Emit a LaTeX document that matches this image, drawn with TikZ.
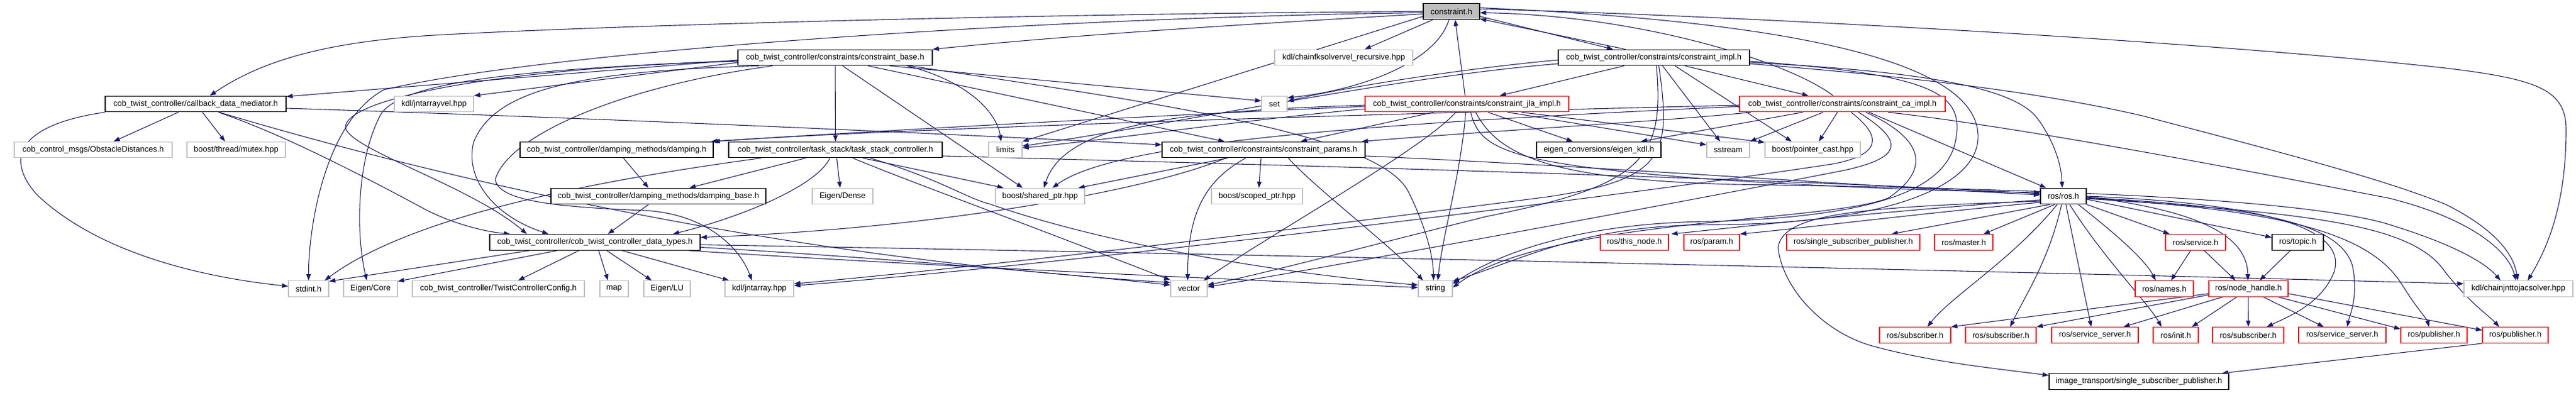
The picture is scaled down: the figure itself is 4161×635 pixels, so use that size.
\documentclass[tikz,border=0pt]{standalone}
\usepackage{fontspec}
\setmainfont{Liberation Sans}
\usetikzlibrary{arrows.meta}
\definecolor{edgeblue}{HTML}{191970}
\definecolor{boxgray}{HTML}{BFBFBF}
\pgfdeclarelayer{bg}
\pgfsetlayers{bg,main}
\begin{document}
\begin{tikzpicture}[x=0.5pt,y=-0.5pt,
  box/.style={rectangle, inner sep=0pt, minimum height=12.75pt, line width=0.65pt, font=\fontsize{6.5}{7}\selectfont, fill=white},
  gr/.style={box, draw=boxgray},
  bk/.style={box, draw=black},
  rd/.style={box, draw=red},
  e/.style={draw=edgeblue, line width=0.55pt, -{Triangle[length=5pt,width=3.6pt]}}]
\useasboundingbox (0,0) rectangle (4161,635);
% row 0
\node[bk, fill=boxgray, minimum width=45.5pt] (c0) at (2344.5,18.5) {constraint.h};
% row 1
\node[bk, minimum width=157pt] (cbase) at (1349,93) {cob\_twist\_controller/constraints/constraint\_base.h};
\node[gr, minimum width=111.5pt] (kfk) at (2170.5,93) {kdl/chainfksolvervel\_recursive.hpp};
\node[bk, minimum width=154.5pt] (cimpl) at (2671.5,93) {cob\_twist\_controller/constraints/constraint\_impl.h};
% row 2
\node[bk, minimum width=146pt] (cbm) at (316,168) {cob\_twist\_controller/callback\_data\_mediator.h};
\node[gr, minimum width=64pt] (jav) at (701,168) {kdl/jntarrayvel.hpp};
\node[gr, minimum width=20.5pt] (set) at (2058.5,168) {set};
\node[rd, minimum width=164.5pt] (jla) at (2369.5,168) {cob\_twist\_controller/constraints/constraint\_jla\_impl.h};
\node[rd, minimum width=166pt] (ca) at (2976,168) {cob\_twist\_controller/constraints/constraint\_ca\_impl.h};
% row 3
\node[gr, minimum width=127.5pt] (obs) at (150.5,242) {cob\_control\_msgs/ObstacleDistances.h};
\node[gr, minimum width=79.5pt] (mutex) at (381.5,242) {boost/thread/mutex.hpp};
\node[bk, minimum width=156pt] (damp) at (996,242) {cob\_twist\_controller/damping\_methods/damping.h};
\node[bk, minimum width=172.5pt] (tsc) at (1349.5,242) {cob\_twist\_controller/task\_stack/task\_stack\_controller.h};
\node[gr, minimum width=27pt] (limits) at (1624,242) {limits};
\node[bk, minimum width=164pt] (cparams) at (2041,242) {cob\_twist\_controller/constraints/constraint\_params.h};
\node[bk, minimum width=100.5pt] (ekdl) at (2582.5,242) {eigen\_conversions/eigen\_kdl.h};
\node[gr, minimum width=34.5pt] (sstream) at (2791.5,242) {sstream};
\node[gr, minimum width=77pt] (pcast) at (2928,242) {boost/pointer\_cast.hpp};
% row 4
\node[bk, minimum width=173.5pt] (dbase) at (1063.5,317) {cob\_twist\_controller/damping\_methods/damping\_base.h};
\node[gr, minimum width=49pt] (edense) at (1361,317) {Eigen/Dense};
\node[gr, minimum width=72pt] (shptr) at (1680,317) {boost/shared\_ptr.hpp};
\node[gr, minimum width=73.5pt] (scptr) at (2030.5,317) {boost/scoped\_ptr.hpp};
\node[bk, minimum width=37pt] (rosh) at (3333,317) {ros/ros.h};
% row 5
\node[bk, minimum width=170pt] (dtypes) at (961,391.5) {cob\_twist\_controller/cob\_twist\_controller\_data\_types.h};
\node[rd, minimum width=55pt] (thisnode) at (2640,391.5) {ros/this\_node.h};
\node[rd, minimum width=45pt] (param) at (2765,391.5) {ros/param.h};
\node[rd, minimum width=107.5pt] (rssp) at (2993.5,391.5) {ros/single\_subscriber\_publisher.h};
\node[rd, minimum width=47pt] (master) at (3172,391.5) {ros/master.h};
\node[rd, minimum width=48.5pt] (service) at (3546.5,391.5) {ros/service.h};
\node[bk, minimum width=41.5pt] (topic) at (3711.5,391.5) {ros/topic.h};
% row 6
\node[gr, minimum width=32.5pt] (stdint) at (498.5,466.5) {stdint.h};
\node[gr, minimum width=43.5pt] (ecore) at (598.5,466.5) {Eigen/Core};
\node[gr, minimum width=139pt] (tcc) at (805,466.5) {cob\_twist\_controller/TwistControllerConfig.h};
\node[gr, minimum width=23pt] (map) at (992,466.5) {map};
\node[gr, minimum width=37.5pt] (elu) at (1077.5,466.5) {Eigen/LU};
\node[gr, minimum width=55.5pt] (ja) at (1226.5,466.5) {kdl/jntarray.hpp};
\node[gr, minimum width=29.5pt] (vector) at (1920.5,466.5) {vector};
\node[gr, minimum width=27.5pt] (string) at (2318.5,466.5) {string};
\node[rd, minimum width=47pt] (names) at (3496,466.5) {ros/names.h};
\node[rd, minimum width=64pt] (nh) at (3632,466.5) {ros/node\_handle.h};
\node[gr, minimum width=88pt] (cjj) at (4068,466.5) {kdl/chainjnttojacsolver.hpp};
% row 7
\node[rd, minimum width=57.5pt] (sub1) at (3093.5,541.5) {ros/subscriber.h};
\node[rd, minimum width=57pt] (sub2) at (3232,541.5) {ros/subscriber.h};
\node[rd, minimum width=70pt] (ss1) at (3384,541.5) {ros/service\_server.h};
\node[rd, minimum width=36.5pt] (init) at (3514.5,541.5) {ros/init.h};
\node[rd, minimum width=57.5pt] (sub3) at (3631.5,541.5) {ros/subscriber.h};
\node[rd, minimum width=70.5pt] (ss2) at (3783.5,541.5) {ros/service\_server.h};
\node[rd, minimum width=53.5pt] (pub1) at (3931.5,541.5) {ros/publisher.h};
\node[rd, minimum width=53pt] (pub2) at (4063,541.5) {ros/publisher.h};
% row 8
\node[bk, minimum width=145pt] (itssp) at (3455,616.5) {image\_transport/single\_subscriber\_publisher.h};

\begin{pgfonlayer}{bg}
\fill[white] (0,0) rectangle (4161,635);
% ---- edges from constraint.h
\draw[e] (c0.west) .. controls (1700,22) and (1000,40) .. (700,57) .. controls (520,68) and (420,100) .. ([xshift=11.5pt]cbm.north);
\draw[e] ([yshift=-2pt]c0.west) .. controls (2000,40) and (1750,55) .. (cbase.north east);
\draw[e] ([xshift=-15pt]c0.south) -- ([xshift=17pt]kfk.north);
\draw[e] ([yshift=-4pt]c0.east) -- ([xshift=-33pt]cimpl.north);
\draw[e] ([xshift=-23pt]cimpl.north) -- ([yshift=-6pt]c0.east);
\draw[e] ([yshift=2pt]c0.east) .. controls (2700,22) and (3500,60) .. (3950,110) .. controls (4100,128) and (4145,145) .. (4145,210) .. controls (4145,330) and (4115,400) .. ([xshift=7.5pt]cjj.north);
\draw[e] ([xshift=-2pt]c0.south) .. controls (2320,100) and (2200,145) .. ([yshift=5pt]set.east);
\draw[e] ([yshift=-4pt]c0.west) -- (limits.north east);
\draw[e] ([yshift=-1pt]c0.west) .. controls (1700,28) and (900,80) .. (620,145) .. controls (520,200) and (498,380) .. (stdint.north);
\draw[e] ([yshift=3pt]c0.east) .. controls (2900,35) and (3190,100) .. (3195,217) .. controls (3200,300) and (3050,362) .. (2770,363) .. controls (2560,363) and (2470,415) .. ([yshift=6pt]string.east);

% ---- constraint_base.h
\draw[e] ([yshift=-2pt]cbase.west) -- ([yshift=6pt]cbm.east);
\draw[e] ([yshift=-4pt]cbase.west) -- (jav.north east);
\draw[e] ([yshift=-3pt]cbase.west) .. controls (800,110) and (560,160) .. (558,205) .. controls (560,240) and (760,300) .. ([xshift=-55pt]dtypes.north);
\draw[e] ([yshift=-2.5pt]cbase.west) .. controls (850,112) and (650,130) .. (615,185) .. controls (575,260) and (575,380) .. ([xshift=-3pt]ecore.north);
\draw[e] ([xshift=44pt]cbase.south) -- ([yshift=2.5pt]set.west);
\draw[e] ([xshift=58pt]cbase.south) .. controls (1560,130) and (1610,180) .. ([xshift=-3.5pt]limits.north);
\draw[e] ([xshift=26.5pt]cbase.south) -- ([xshift=-31.5pt]cparams.north);
\draw[e] (cbase) -- (tsc);
\draw[e] ([xshift=6pt]cbase.south) -- ([xshift=-14pt]shptr.north);
\draw[e] ([xshift=60pt]cbase.south) .. controls (1900,170) and (2230,220) .. (2275,310) .. controls (2300,360) and (2315,410) .. ([xshift=-1.5pt]string.north);
\draw[e] ([xshift=-50.5pt]cbase.south) .. controls (1000,140) and (820,220) .. (800,290) .. controls (805,322) and (880,334) .. (1040,340) .. controls (1140,345) and (1195,400) .. ([xshift=-6pt]ja.north);
\draw[e] ([xshift=-61.5pt]cbase.south) .. controls (950,115) and (800,140) .. (765,230) .. controls (750,290) and (800,350) .. ([xshift=-37.5pt]dtypes.north);

% ---- callback_data_mediator.h
\draw[e] ([xshift=-14pt]cbm.south) -- ([xshift=16.5pt]obs.north);
\draw[e] ([xshift=5.5pt]cbm.south) -- ([xshift=-9pt]mutex.north);
\draw[e] (cbm.south west) .. controls (40,200) and (2,250) .. (60,315) .. controls (150,400) and (300,445) .. ([yshift=2pt]stdint.west);
\draw[e] ([yshift=-3.5pt]cbm.east) .. controls (1000,192) and (1500,215) .. ([yshift=4pt]cparams.west);
\draw[e] ([xshift=18.5pt]cbm.south) .. controls (450,215) and (560,270) .. (690,340) .. controls (740,365) and (790,375) .. ([xshift=-68.5pt]dtypes.north);
\draw[e] ([xshift=19pt]cbm.south) .. controls (750,300) and (1300,420) .. ([yshift=5pt]vector.west);

% ---- task_stack_controller.h
\draw[e] ([xshift=-24pt]tsc.south) -- ([xshift=25pt]dbase.north);
\draw[e] ([xshift=1pt]tsc.south) -- ([xshift=-2pt]edense.north);
\draw[e] ([xshift=-4.5pt]tsc.south) .. controls (1320,300) and (1200,350) .. ([xshift=63pt]dtypes.north);
\draw[e] ([xshift=-60pt]tsc.south) .. controls (900,300) and (650,360) .. ([xshift=13pt]stdint.north);
\draw[e] ([xshift=22pt]tsc.south) -- ([xshift=-29.5pt]shptr.north);
\draw[e] ([xshift=14pt]tsc.south) .. controls (1460,290) and (1600,340) .. ([yshift=7pt]vector.west);
\draw[e] ([xshift=28pt]tsc.south) .. controls (1520,290) and (1560,320) .. (1600,330) .. controls (1800,400) and (2100,445) .. ([yshift=3pt]string.west);
\draw[e] ([yshift=-5pt]tsc.east) .. controls (2200,270) and (2900,290) .. ([yshift=2pt]rosh.west);

% ---- damping, damping_base, data_types
\draw[e] ([xshift=5.5pt]damp.south) -- ([xshift=-8pt]dbase.north);
\draw[e] ([xshift=-8pt]dbase.south) -- ([xshift=10.5pt]dtypes.north);
\draw[e] ([xshift=-13pt]dtypes.south) -- ([xshift=16pt]tcc.north);
\draw[e] ([xshift=3pt]dtypes.south) -- ([xshift=-5pt]map.north);
\draw[e] ([xshift=9.5pt]dtypes.south) -- ([xshift=-12.5pt]elu.north);
\draw[e] ([xshift=22pt]dtypes.south) -- ([xshift=-24.5pt]ja.north);
\draw[e] ([xshift=-53pt]dtypes.south) -- ([yshift=6pt]stdint.east);
\draw[e] ([xshift=-30.5pt]dtypes.south) -- ([yshift=6pt]ecore.east);
\draw[e] ([yshift=-4pt]dtypes.east) .. controls (1400,415) and (1700,440) .. ([yshift=3pt]vector.west);
\draw[e] ([xshift=76pt]dtypes.south) .. controls (1500,430) and (2000,452) .. ([yshift=1pt]string.west);
\draw[e] ([yshift=-2pt]dtypes.east) .. controls (2000,410) and (3300,440) .. ([yshift=4pt]cjj.west);

% ---- constraint_params.h
\draw[e] ([xshift=-30.5pt]cparams.south) .. controls (1850,310) and (1500,370) .. ([yshift=4pt]dtypes.east);
\draw[e] ([xshift=-29pt]cparams.south) -- ([xshift=31pt]shptr.north);
\draw[e] ([xshift=-2pt]cparams.south) -- ([xshift=1.5pt]scptr.north);
\draw[e] ([xshift=-14.5pt]cparams.south) .. controls (1950,290) and (1918,340) .. ([xshift=-1pt]vector.north);
\draw[e] ([xshift=20pt]cparams.south) .. controls (2120,300) and (2250,400) .. ([xshift=-10pt]string.north);
\draw[e] ([yshift=-5pt]cparams.east) .. controls (2600,270) and (3000,300) .. ([yshift=1pt]rosh.west);

% ---- constraint_impl.h
\draw[e] ([xshift=-24pt]cimpl.south) -- ([xshift=26.5pt]jla.north);
\draw[e] ([xshift=25pt]cimpl.south) -- ([xshift=-27.5pt]ca.north);
\draw[e] ([yshift=-2pt]cimpl.west) .. controls (2350,112) and (2150,145) .. ([yshift=2pt]set.east);
\draw[e] ([yshift=-5pt]cimpl.west) .. controls (2250,125) and (1900,200) .. ([yshift=3pt]limits.east);
\draw[e] ([yshift=-4pt]cimpl.east) .. controls (3100,115) and (3250,140) .. (3290,190) .. controls (3320,230) and (3330,270) .. ([xshift=-1pt]rosh.north);
\draw[e] ([xshift=7pt]cimpl.south) -- ([xshift=-6.5pt]sstream.north);
\draw[e] ([xshift=17pt]cimpl.south) -- ([xshift=-17pt]pcast.north);
\draw[e] ([xshift=4pt]cimpl.south) .. controls (2700,250) and (2690,290) .. (2500,318) .. controls (2100,370) and (1600,430) .. ([yshift=4pt]ja.east);
\draw[e] ([yshift=-3pt]cimpl.east) .. controls (3120,120) and (3170,150) .. (3160,220) .. controls (3150,300) and (3050,350) .. (2760,358) .. controls (2550,360) and (2420,410) .. ([yshift=4pt]string.east);
\draw[e] ([yshift=-5pt]cimpl.east) .. controls (3100,125) and (3300,150) .. (3460,187) .. controls (3700,250) and (3850,290) .. (3950,330) .. controls (4030,370) and (4060,410) .. ([xshift=-0.5pt]cjj.north);
\draw[e] ([xshift=2pt]cimpl.south) .. controls (2690,260) and (2650,300) .. (2400,350) .. controls (2200,400) and (2050,440) .. ([yshift=3pt]vector.east);

% ---- constraint_jla_impl.h
\draw[e] ([xshift=-1.5pt]jla.north) -- ([xshift=3pt]c0.south);
\draw[e] ([xshift=-27pt]jla.south) -- ([xshift=30pt]cparams.north);
\draw[e] ([xshift=17pt]jla.south) -- ([xshift=-21pt]ekdl.north);
\draw[e] ([xshift=33pt]jla.south) -- ([yshift=4pt]sstream.west);
\draw[e] ([xshift=44pt]jla.south) -- ([yshift=6pt]pcast.west);
\draw[e] ([yshift=-2pt]jla.west) .. controls (1900,185) and (1400,212) .. (damp.north east);
\draw[e] ([yshift=-4pt]jla.west) .. controls (2000,195) and (1800,225) .. ([yshift=1.5pt]limits.east);
\draw[e] ([yshift=-1pt]jla.west) .. controls (1900,180) and (1720,200) .. ([xshift=3pt]shptr.north);
\draw[e] ([xshift=-9pt]jla.south) .. controls (2300,240) and (2050,380) .. ([xshift=12pt]vector.north);
\draw[e] ([xshift=-1pt]jla.south) .. controls (2360,280) and (2330,380) .. ([xshift=2pt]string.north);
\draw[e] ([xshift=3pt]jla.south) .. controls (2390,240) and (2430,265) .. (2770,290) .. controls (3000,305) and (3200,310) .. ([yshift=3pt]rosh.west);
\draw[e] ([xshift=7pt]jla.south) .. controls (2420,250) and (2500,290) .. (2800,298) .. controls (3300,305) and (3700,320) .. (3850,360) .. controls (3950,390) and (4010,420) .. ([xshift=-14.5pt]cjj.north);

% ---- constraint_ca_impl.h
\draw[e] ([xshift=-7.5pt]ca.north) .. controls (2890,100) and (2650,25) .. ([yshift=-1pt]c0.east);
\draw[e] ([xshift=-15.5pt]ca.south) -- (sstream.north east);
\draw[e] ([xshift=-4pt]ca.south) -- ([xshift=5pt]pcast.north);
\draw[e] ([xshift=-32pt]ca.south) -- ([xshift=34pt]ekdl.north);
\draw[e] ([xshift=-74pt]ca.south) .. controls (2700,195) and (2400,212) .. ([xshift=-3pt]cparams.north east);
\draw[e] ([yshift=-1pt]ca.west) .. controls (2300,182) and (1500,205) .. ([xshift=-2pt]damp.north east);
\draw[e] ([yshift=-2pt]ca.west) .. controls (2200,200) and (1800,230) .. ([xshift=10pt]shptr.north);
\draw[e] ([xshift=21.5pt]ca.south) -- ([xshift=-14pt]rosh.north);
\draw[e] ([xshift=7pt]ca.south) .. controls (3040,220) and (3040,250) .. (2960,265) .. controls (2600,320) and (1700,430) .. ([yshift=2.5pt]ja.east);
\draw[e] ([xshift=13pt]ca.south) .. controls (3080,230) and (3070,255) .. (2980,275) .. controls (2700,330) and (2100,440) .. ([yshift=1.5pt]vector.east);
\draw[e] ([xshift=19pt]ca.south) .. controls (3120,230) and (3110,280) .. (3050,320) .. controls (2950,360) and (2500,352) .. ([yshift=1pt]string.east);
\draw[e] ([xshift=37pt]ca.south) .. controls (3300,210) and (3700,290) .. (3858,320) .. controls (3980,350) and (4050,400) .. ([xshift=-2pt]cjj.north);

% ---- ros/ros.h
\draw[e] ([yshift=-3pt]rosh.west) .. controls (3000,345) and (2800,368) .. ([xshift=2pt]thisnode.north east);
\draw[e] ([yshift=-5pt]rosh.west) .. controls (3100,345) and (2900,370) .. (param.north east);
\draw[e] ([xshift=-11pt]rosh.south) -- ([xshift=31pt]rssp.north);
\draw[e] ([xshift=-7pt]rosh.south) -- ([xshift=16pt]master.north);
\draw[e] ([xshift=-5pt]rosh.south) .. controls (3250,420) and (3150,480) .. ([xshift=10pt]sub1.north);
\draw[e] ([xshift=-1.5pt]rosh.south) .. controls (3310,420) and (3270,480) .. ([xshift=7.5pt]sub2.north);
\draw[e] ([xshift=2pt]rosh.south) -- ([xshift=-3pt]ss1.north);
\draw[e] ([xshift=5pt]rosh.south) .. controls (3400,420) and (3470,490) .. ([xshift=-11.5pt]init.north);
\draw[e] ([xshift=12pt]rosh.south) .. controls (3420,380) and (3465,420) .. ([xshift=-7pt]names.north);
\draw[e] (rosh.south east) -- ([xshift=-21pt]service.north);
\draw[e] ([yshift=-2.5pt]rosh.east) -- ([yshift=4pt]topic.west);
\draw[e] ([yshift=-0.5pt]rosh.east) .. controls (3550,340) and (3630,380) .. ([xshift=-0.5pt]nh.north);
\draw[e] (rosh.east) .. controls (3700,330) and (3790,380) .. (3770,440) .. controls (3750,490) and (3700,510) .. ([xshift=15pt]sub3.north);
\draw[e] ([yshift=-1pt]rosh.east) .. controls (3650,335) and (3780,360) .. (3800,430) .. controls (3810,480) and (3795,510) .. ([xshift=4pt]ss2.north);
\draw[e] ([yshift=-1.5pt]rosh.east) .. controls (3700,340) and (3830,380) .. (3880,460) .. controls (3905,500) and (3920,515) .. ([xshift=-4pt]pub1.north);
\draw[e] ([yshift=-2pt]rosh.east) .. controls (3750,345) and (3900,365) .. (3950,440) .. controls (3990,490) and (4020,510) .. ([xshift=-13pt]pub2.north);
\draw[e] ([yshift=-4pt]rosh.west) .. controls (3000,335) and (2880,345) .. (2872,400) .. controls (2880,470) and (2950,540) .. (3028,560) .. controls (3120,585) and (3220,595) .. ([yshift=5pt]itssp.west);

% ---- service, topic, node_handle, publisher
\draw[e] ([xshift=-4pt]service.south) -- ([xshift=5.5pt]names.north);
\draw[e] ([xshift=7pt]service.south) -- ([xshift=-10.5pt]nh.north);
\draw[e] ([xshift=-6pt]topic.south) -- ([xshift=9pt]nh.north);
\draw[e] ([yshift=-4pt]nh.west) -- (sub1.north east);
\draw[e] ([yshift=-5pt]nh.west) -- (sub2.north east);
\draw[e] ([xshift=-21pt]nh.south) -- ([xshift=23pt]ss1.north);
\draw[e] ([xshift=-9.5pt]nh.south) -- ([xshift=13pt]init.north);
\draw[e] (nh) -- (sub3);
\draw[e] ([xshift=12pt]nh.south) -- ([xshift=-15pt]ss2.north);
\draw[e] ([xshift=24pt]nh.south) -- ([yshift=5pt]pub1.west);
\draw[e] ([yshift=-4pt]nh.east) -- ([yshift=4pt]pub2.west);
\draw[e] (pub2.south west) -- ([xshift=67pt]itssp.north);
\end{pgfonlayer}
\end{tikzpicture}
\end{document}
